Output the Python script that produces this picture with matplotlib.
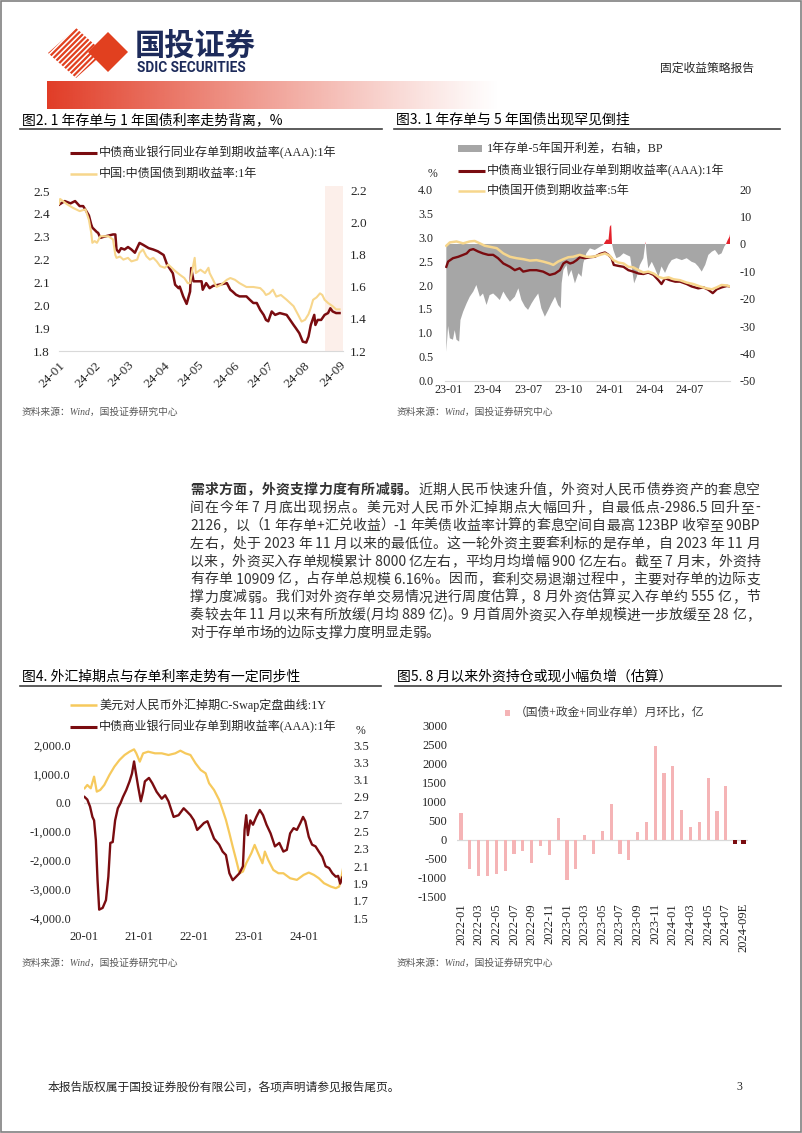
import re
import numpy as np
import pandas as pd
import matplotlib
matplotlib.use("Agg")
import matplotlib.pyplot as plt
import matplotlib.dates as mdates
from matplotlib.patches import Polygon, Rectangle
from matplotlib.ticker import FuncFormatter

W, H = 802, 1133
SERIF = ["Liberation Serif", "Noto Sans CJK SC"]
CJK = ["Noto Sans CJK SC", "DejaVu Sans"]
plt.rcParams["font.family"] = SERIF
plt.rcParams["axes.unicode_minus"] = False

DARK_RED = "#7a0c10"
YELLOW = "#f7d68c"
YELLOW4 = "#f6c95c"
GRAY_FILL = "#a6a6a6"
RED_FILL = "#e3212b"
PINK = "#f5b4b6"
AXIS_GRAY = "#d9d9d9"
TEXT = "#262626"
NAVY = "#1d2b5b"
LOGO_RED = "#e1401f"

# ---------------------------------------------------------------------
# fig 2: 1y CD (left axis) vs 1y CGB (right axis), days since 2024-01-01
F2_CD_DAYS = [0, 5, 10, 14, 18, 21, 24, 26, 28, 29, 31, 33, 34, 36, 39, 47, 49, 50,
              52, 54, 57, 60, 63, 66, 70, 73, 78, 82, 86, 91, 94, 96, 99, 101, 104,
              105, 108, 111, 114, 115, 117, 120, 124, 125, 128, 131, 134, 146, 149,
              151, 154, 157, 163, 166, 169, 172, 175, 178, 180, 182, 185, 188, 192,
              198, 201, 204, 206, 209, 212, 215, 217, 219, 222, 223, 225, 228, 231,
              234, 236, 238, 241, 244]
F2_CD = [2.44, 2.456, 2.446, 2.456, 2.434, 2.434, 2.41, 2.393, 2.354, 2.34, 2.33,
         2.32, 2.317, 2.295, 2.30, 2.31, 2.31, 2.244, 2.232, 2.25, 2.244, 2.255,
         2.244, 2.23, 2.273, 2.265, 2.25, 2.244, 2.236, 2.22, 2.178, 2.163, 2.14,
         2.09, 2.075, 2.082, 2.039, 2.006, 2.06, 2.163, 2.105, 2.105, 2.105, 2.068,
         2.097, 2.075, 2.085, 2.097, 2.068, 2.06, 2.046, 2.039, 2.039, 2.024, 2.01,
         2.01, 1.98, 1.958, 1.936, 1.93, 1.973, 1.958, 1.966, 1.958, 1.936, 1.914,
         1.90, 1.878, 1.841, 1.837, 1.863, 1.914, 1.958, 1.914, 1.936, 1.936, 1.958,
         1.966, 1.987, 1.973, 1.966, 1.966]
F2_CGB_DAYS = [0, 1, 7, 12, 18, 23, 26, 28, 29, 31, 33, 36, 39, 43, 47, 49, 50, 53,
               56, 60, 63, 68, 70, 73, 76, 79, 82, 85, 88, 92, 95, 98, 101, 105, 109,
               112, 114, 116, 118, 119, 123, 127, 130, 131, 134, 137, 141, 146, 149,
               153, 157, 163, 169, 175, 178, 180, 183, 186, 189, 193, 198, 201, 204,
               208, 211, 214, 217, 219, 221, 224, 227, 229, 231, 234, 238, 241, 244]
F2_CGB = [2.12, 2.15, 2.117, 2.095, 2.074, 2.085, 2.02, 1.94, 1.876, 1.887, 1.876,
          1.917, 1.917, 1.917, 1.897, 1.80, 1.782, 1.79, 1.771, 1.782, 1.76, 1.771,
          1.813, 1.834, 1.792, 1.771, 1.782, 1.76, 1.73, 1.72, 1.74, 1.72, 1.70,
          1.677, 1.656, 1.624, 1.624, 1.708, 1.782, 1.687, 1.708, 1.687, 1.72, 1.687,
          1.645, 1.60, 1.614, 1.645, 1.656, 1.645, 1.624, 1.60, 1.60, 1.593, 1.572,
          1.55, 1.56, 1.583, 1.54, 1.55, 1.52, 1.50, 1.48, 1.426, 1.384, 1.395,
          1.43, 1.47, 1.52, 1.535, 1.56, 1.55, 1.52, 1.50, 1.48, 1.46, 1.46]

# fig 3: spread (BP, right axis) and yields (%, left axis), days since 2023-01-01
F3_SPREAD_DAYS = [-4, 0, 4, 11, 15, 19, 25, 28, 34, 42, 49, 57, 64, 72, 79, 87, 94,
                  102, 110, 117, 125, 132, 140, 151, 159, 166, 174, 181, 189, 196,
                  204, 211, 219, 227, 234, 242, 249, 255, 257, 261, 268, 272, 279,
                  287, 295, 302, 306, 313, 321, 332, 344, 351, 355, 359, 363, 366,
                  369, 371, 374, 378, 381, 389, 397, 404, 412, 417, 421, 427, 434,
                  442, 447, 449, 453, 461, 468, 476, 483, 491, 499, 506, 517, 529,
                  540, 551, 559, 566, 574, 582, 589, 597, 604, 612, 619, 625, 629,
                  633, 637, 639]
F3_SPREAD = [-39.4, -30, -34.5, -35, -31.5, -35, -35.7, -27.8, -24.8, -21.7, -19.3,
             -17.4, -15, -19.3, -18.1, -22.3, -18.7, -18.1, -19.3, -20.5, -17.4,
             -19.3, -21.1, -19.3, -16.2, -20.5, -22.9, -24.1, -21.7, -19.9, -18.1,
             -23.5, -26.6, -24.1, -21.7, -19.3, -22.3, -23.5, -14.4, -9.5, -7.7,
             -12, -9.5, -14.4, -10.7, -12, -7, -3.4, -1.6, -2.2, -1.0, -0.4, 0.8,
             1.7, 1.5, 6.3, 7.0, 0, -2.2, -4.0, -5.2, -4.6, -3.4, -4.0, -4.6, -10,
             -14.4, -12, -7.7, -5.2, 0.9, -3.4, -8.9, -6.5, -8.9, -12, -8.2, -10.6,
             -7.6, -5.9, -5.2, -5.9, -5.2, -6.5, -7.0, -8.2, -10.1, -7.6, -4.0,
             -2.8, -2.2, -4.0, -3.4, -1.0, 0, 1.5, 2.7, 4.5]
F3_CD_DAYS = [-4, 0, 11, 23, 34, 42, 49, 57, 68, 79, 91, 102, 113, 125, 140, 151,
              162, 170, 185, 200, 215, 230, 242, 253, 261, 268, 276, 283, 291, 298,
              310, 321, 332, 344, 355, 363, 370, 375, 385, 397, 408, 419, 431, 442,
              453, 465, 476, 483, 491, 502, 514, 525, 540, 551, 566, 578, 589, 599,
              608, 619, 631, 638]
F3_CD = [2.38, 2.49, 2.56, 2.59, 2.63, 2.66, 2.73, 2.75, 2.70, 2.66, 2.63, 2.63,
         2.56, 2.45, 2.38, 2.31, 2.35, 2.28, 2.31, 2.31, 2.28, 2.21, 2.24, 2.31,
         2.45, 2.49, 2.45, 2.47, 2.52, 2.58, 2.56, 2.58, 2.59, 2.65, 2.68, 2.63,
         2.56, 2.42, 2.40, 2.38, 2.31, 2.28, 2.24, 2.23, 2.26, 2.21, 2.10, 2.02,
         2.14, 2.10, 2.07, 2.07, 2.02, 1.97, 1.93, 1.95, 1.90, 1.83, 1.91, 1.95,
         1.98, 1.97]
F3_CDB_DAYS = [-4, 4, 19, 34, 49, 60, 72, 83, 94, 110, 125, 140, 155, 170, 185, 200,
               215, 230, 238, 249, 261, 272, 283, 298, 313, 329, 344, 355, 366, 374,
               385, 397, 408, 419, 431, 442, 453, 465, 476, 487, 499, 510, 525, 540,
               555, 570, 585, 597, 608, 619, 631, 638]
F3_CDB = [2.82, 2.89, 2.91, 2.87, 2.91, 2.92, 2.87, 2.82, 2.80, 2.77, 2.66, 2.59,
          2.56, 2.54, 2.51, 2.52, 2.49, 2.45, 2.42, 2.49, 2.54, 2.58, 2.59, 2.63,
          2.59, 2.59, 2.63, 2.66, 2.61, 2.52, 2.47, 2.45, 2.38, 2.37, 2.31, 2.26,
          2.28, 2.24, 2.17, 2.14, 2.16, 2.12, 2.10, 2.05, 2.02, 1.97, 1.93, 1.91,
          1.95, 2.00, 1.99, 1.97]

# fig 4: FX swap points (left) and 1y CD (%, right), days since 2020-01-01
F4_SWAP_DAYS = [4, 22, 45, 67, 85, 108, 135, 169, 202, 236, 270, 303, 333, 348, 371,
                393, 427, 472, 517, 562, 607, 641, 674, 708, 742, 776, 809, 832, 865,
                899, 922, 944, 967, 989, 1012, 1034, 1057, 1079, 1113, 1135, 1158,
                1187, 1203, 1225, 1259, 1293, 1326, 1371, 1416, 1461, 1495, 1529,
                1562, 1596, 1641, 1675, 1697, 1713, 1731]
F4_SWAP = [501, 616, 501, 905, 386, 443, 616, 962, 1250, 1481, 1654, 1769, 1850,
           1712, 1423, 1712, 1769, 1712, 1712, 1654, 1712, 1804, 1712, 1654, 1366,
           1135, 1020, 674, 443, 98, -248, -594, -1055, -1517, -1978, -2440, -2382,
           -2093, -1747, -1459, -1747, -2093, -1690, -1978, -2325, -2440, -2440,
           -2613, -2670, -2497, -2416, -2497, -2613, -2785, -2901, -2958, -2901,
           -2554, -2036]
F4_CD_DAYS = [4, 22, 40, 56, 67, 79, 90, 101, 124, 146, 162, 175, 191, 207, 225, 243,
              259, 281, 303, 319, 333, 342, 360, 378, 393, 405, 432, 454, 483, 517,
              540, 562, 596, 629, 663, 686, 708, 731, 753, 776, 798, 821, 843, 865,
              899, 922, 944, 967, 989, 1012, 1034, 1057, 1068, 1079, 1090, 1106,
              1124, 1146, 1169, 1191, 1214, 1241, 1270, 1299, 1326, 1349, 1371,
              1394, 1416, 1439, 1457, 1472, 1495, 1517, 1540, 1562, 1585, 1607,
              1630, 1652, 1675, 1690, 1704, 1720, 1742]
F4_CD = [2.90, 2.87, 2.79, 2.67, 2.63, 2.40, 1.94, 1.60, 1.62, 1.71, 1.98, 2.37,
         2.38, 2.63, 2.77, 2.83, 2.90, 2.98, 3.08, 3.17, 3.31, 3.21, 3.02, 2.85,
         2.96, 3.08, 3.12, 3.06, 2.96, 2.88, 2.92, 2.85, 2.67, 2.69, 2.77, 2.73,
         2.69, 2.63, 2.52, 2.56, 2.60, 2.62, 2.52, 2.42, 2.35, 2.27, 2.23, 2.02,
         1.94, 1.98, 2.02, 2.10, 2.52, 2.69, 2.46, 2.63, 2.58, 2.67, 2.75, 2.69,
         2.58, 2.48, 2.33, 2.37, 2.27, 2.29, 2.48, 2.54, 2.52, 2.60, 2.67, 2.62,
         2.44, 2.35, 2.33, 2.27, 2.21, 2.10, 2.08, 2.02, 1.98, 1.99, 1.90, 1.98,
         1.96]

# fig 5: foreign holdings, month-on-month change (100m CNY)
F5_MONTHS = list(pd.period_range("2022-01", "2024-08", freq="M").strftime("%Y-%m")) + ["2024-09E"]
F5_VALUES = [700, -760, -960, -955, -900, -830, -385, -305, -615, -165, -410, 580,
             -1050, -760, 130, -370, 220, 940, -375, -545, 195, 455, 2475, 1745,
             1950, 790, 335, 465, 1630, 755, 1420, -120, -100]
F5_ESTIMATED = 2   # last two bars are estimates, drawn dark

PARAGRAPH = [
    [("需求方面，外资支撑力度有所减弱。", "bold"), ("近期人民币快速升值，外资对人民币债券资产的套息空", "normal")],
    [("间在今年 7 月底出现拐点。美元对人民币外汇掉期点大幅回升，自最低点-2986.5 回升至-", "normal")],
    [("2126，以（1 年存单+汇兑收益）-1 年美债收益率计算的套息空间自最高 123BP 收窄至 90BP", "normal")],
    [("左右，处于 2023 年 11 月以来的最低位。这一轮外资主要套利标的是存单，自 2023 年 11 月", "normal")],
    [("以来，外资买入存单规模累计 8000 亿左右，平均月均增幅 900 亿左右。截至 7 月末，外资持", "normal")],
    [("有存单 10909 亿，占存单总规模 6.16%。因而，套利交易退潮过程中，主要对存单的边际支", "normal")],
    [("撑力度减弱。我们对外资存单交易情况进行周度估算，8 月外资估算买入存单约 555 亿，节", "normal")],
    [("奏较去年 11 月以来有所放缓(月均 889 亿)。9 月首周外资买入存单规模进一步放缓至 28 亿，", "normal")],
    [("对于存单市场的边际支撑力度明显走弱。", "normal")],
]
SOURCE = "资料来源：Wind，国投证券研究中心"


def to_dates(base, days):
    return pd.Timestamp(base) + pd.to_timedelta(np.asarray(days), unit="D")


fig = plt.figure(figsize=(W / 100, H / 100), dpi=100)
page = fig.add_axes([0, 0, 1, 1])
page.set_xlim(0, W)
page.set_ylim(H, 0)
page.axis("off")


def px_axes(x0, y0, x1, y1):
    return fig.add_axes([x0 / W, 1 - y1 / H, (x1 - x0) / W, (y1 - y0) / H])


def clean(ax, size=8.5):
    for s in ax.spines.values():
        s.set_visible(False)
    ax.patch.set_alpha(0)
    ax.tick_params(length=0, labelsize=size, colors=TEXT)


def legend_line(x, y, color, label, lw=2.0):
    page.plot([x, x + 27], [y, y], color=color, lw=lw, solid_capstyle="butt")
    page.text(x + 29, y, label, fontsize=8.7, va="center", ha="left", color=TEXT)


# ---------------------------------------------------------------------
# page frame, header and logo
page.add_patch(Rectangle((0.8, 0.8), W - 1.6, H - 1.6, fill=False, ec="#808080", lw=1.2))

stripe_clip = Polygon([(48, 53), (76, 28), (104, 53), (76, 78)], closed=True,
                      transform=page.transData, fc="none", ec="none")
page.add_patch(stripe_clip)
for c in np.arange(60, 170, 5.4):
    ln, = page.plot([30, 130], [c, c - 100], color=LOGO_RED, lw=1.6)
    ln.set_clip_path(stripe_clip)
page.add_patch(Polygon([(88, 52), (108, 32), (128, 52), (108, 72)], closed=True,
                       fc=LOGO_RED, ec="none"))
page.text(135, 46, "国投证券", fontsize=21.8, weight="bold", color=NAVY,
          family=CJK, va="center", ha="left")
page.text(137, 67.5, "SDIC SECURITIES", fontsize=9.8, weight="bold", color=NAVY,
          family=["Roboto", "DejaVu Sans"], va="center", ha="left")
page.text(754, 68, "固定收益策略报告", fontsize=8.5, color=TEXT, family=CJK,
          va="center", ha="right")

grad = np.ones((2, 400, 4))
grad[..., 0] = 225 / 255
grad[..., 1] = 60 / 255
grad[..., 2] = 38 / 255
grad[..., 3] = np.linspace(1, 0, 400) ** 1.1
page.imshow(grad, extent=(47, 500, 109, 81), aspect="auto", interpolation="bilinear")
page.set_xlim(0, W)
page.set_ylim(H, 0)

# chart titles
for x, y, x1, title in [(22, 120, 382, "图2. 1 年存单与 1 年国债利率走势背离，%"),
                        (396, 120, 780, "图3. 1 年存单与 5 年国债出现罕见倒挂"),
                        (22, 677, 381, "图4. 外汇掉期点与存单利率走势有一定同步性"),
                        (397, 677, 781, "图5. 8 月以来外资持仓或现小幅负增（估算）")]:
    page.text(x, y, title, fontsize=10, color="#000000", family=CJK,
              va="center", ha="left")
    page.plot([x - 2, x1], [y + 9, y + 9], color="#404040", lw=1.2)

for x, y in [(22, 412), (397, 412), (22, 963), (397, 963)]:
    page.text(x, y, SOURCE, fontsize=7, style="italic", color="#595959",
              family=["Liberation Serif", "Noto Sans CJK SC"], va="center", ha="left")

page.text(48, 1087, "本报告版权属于国投证券股份有限公司，各项声明请参见报告尾页。",
          fontsize=8.5, color=TEXT, family=CJK, va="center", ha="left")
page.text(739, 1087, "3", fontsize=8.5, color=TEXT, va="center", ha="center")

# ---------------------------------------------------------------------
# paragraph, justified line by line
renderer = fig.canvas.get_renderer()
for i, parts in enumerate(PARAGRAPH):
    y = 490 + i * 17.9
    objs = []
    for s, w in parts:
        for m in re.finditer(r"[ -~]+|.", s):
            objs.append(page.text(0, y, m.group(), fontsize=10, weight=w, color="#333333",
                                  family=CJK, va="center", ha="left"))
    widths = [t.get_window_extent(renderer).width for t in objs]
    gap = 0.0
    if i < len(PARAGRAPH) - 1:
        gap = (760 - 190 - sum(widths)) / (len(objs) - 1)
    x = 190
    for t, wd in zip(objs, widths):
        t.set_x(x)
        x += wd + gap

# ---------------------------------------------------------------------
# fig 2
ax = px_axes(59, 186, 343, 351)
clean(ax, 9.5)
ax.axvspan(pd.Timestamp("2024-08-19"), pd.Timestamp("2024-09-05"), color="#fcefea", lw=0)
ax.plot(to_dates("2024-01-01", F2_CD_DAYS), F2_CD, color=DARK_RED, lw=1.8)
ax.set_ylim(1.8, 2.522)
ax.set_yticks(np.arange(1.8, 2.51, 0.1))
ax.yaxis.set_major_formatter(FuncFormatter(lambda v, p: f"{v:.1f}"))
ax.spines["bottom"].set_visible(True)
ax.spines["bottom"].set_color(AXIS_GRAY)
ax.tick_params(axis="y", pad=6.5)
ax2 = ax.twinx()
clean(ax2, 9.5)
ax2.plot(to_dates("2024-01-01", F2_CGB_DAYS), F2_CGB, color=YELLOW, lw=1.5)
ax2.set_ylim(1.2, 2.231)
ax2.set_yticks(np.arange(1.2, 2.21, 0.2))
ax2.yaxis.set_major_formatter(FuncFormatter(lambda v, p: f"{v:.1f}"))
ax2.tick_params(axis="y", pad=5)
ax.set_xlim(pd.Timestamp("2024-01-01"), pd.Timestamp("2024-09-04"))
ax.xaxis.set_major_locator(mdates.MonthLocator())
ax.xaxis.set_major_formatter(mdates.DateFormatter("%y-%m"))
ax.tick_params(axis="x", pad=6)
for lab in ax.get_xticklabels():
    lab.set_rotation(45)
    lab.set_ha("right")
    lab.set_rotation_mode("anchor")

legend_line(70, 153, DARK_RED, "中债商业银行同业存单到期收益率(AAA):1年", lw=2.2)
legend_line(70, 174, YELLOW, "中国:中债国债到期收益率:1年", lw=1.8)

# fig 3: spread area on the back axes (right ticks), yields on the twin (left ticks)
ax = px_axes(445, 189.3, 730, 380.7)
clean(ax, 8.7)
ax2 = ax.twinx()
clean(ax2, 8.7)
ax.yaxis.tick_right()
ax2.yaxis.tick_left()
sp_dates = to_dates("2023-01-01", F3_SPREAD_DAYS)
sp = np.array(F3_SPREAD)
ax.fill_between(sp_dates, sp, 0, where=sp <= 0, interpolate=True, color=GRAY_FILL, lw=0)
ax.fill_between(sp_dates, sp, 0, where=sp >= 0, interpolate=True, color=RED_FILL, lw=0)
ax.set_ylim(-50, 20)
ax.set_yticks(np.arange(-50, 21, 10))
ax.tick_params(axis="y", pad=7)
ax2.plot(to_dates("2023-01-01", F3_CD_DAYS), F3_CD, color=DARK_RED, lw=1.7)
ax2.plot(to_dates("2023-01-01", F3_CDB_DAYS), F3_CDB, color=YELLOW, lw=1.8)
ax2.set_ylim(0, 4)
ax2.set_yticks(np.arange(0, 4.01, 0.5))
ax2.yaxis.set_major_formatter(FuncFormatter(lambda v, p: f"{v:.1f}"))
ax2.tick_params(axis="y", pad=8.5)
ax2.spines["bottom"].set_visible(True)
ax2.spines["bottom"].set_color(AXIS_GRAY)
ax.set_xlim(pd.Timestamp("2022-12-25"), pd.Timestamp("2024-09-30"))
ax.xaxis.set_major_locator(mdates.MonthLocator(bymonth=[1, 4, 7, 10]))
ax.xaxis.set_major_formatter(mdates.DateFormatter("%y-%m"))
ax.tick_params(axis="x", pad=2.5)

page.add_patch(Rectangle((458, 145), 24, 7, fc=GRAY_FILL, ec="none"))
page.text(487, 148.5, "1年存单-5年国开利差，右轴，BP", fontsize=8.7, va="center",
          ha="left", color=TEXT)
legend_line(458, 170.5, DARK_RED, "中债商业银行同业存单到期收益率(AAA):1年", lw=2.2)
legend_line(458, 190.5, YELLOW, "中债国开债到期收益率:5年", lw=1.8)
page.text(432, 174, "%", fontsize=8.5, va="center", ha="center", color=TEXT)

# fig 4
ax = px_axes(84, 745, 342, 918.3)
clean(ax, 9)
ax.axhline(0, color=AXIS_GRAY, lw=0.9)
ax.plot(to_dates("2020-01-01", F4_SWAP_DAYS), F4_SWAP, color=YELLOW4, lw=1.6)
ax.set_ylim(-4000, 2000)
ax.set_yticks(np.arange(-4000, 2001, 1000))
ax.yaxis.set_major_formatter(FuncFormatter(lambda v, p: f"{v:,.1f}"))
ax.tick_params(axis="y", pad=9.5)
ax2 = ax.twinx()
clean(ax2, 9)
ax2.plot(to_dates("2020-01-01", F4_CD_DAYS), F4_CD, color=DARK_RED, lw=1.7)
ax2.set_ylim(1.5, 3.5)
ax2.set_yticks(np.arange(1.5, 3.51, 0.2))
ax2.yaxis.set_major_formatter(FuncFormatter(lambda v, p: f"{v:.1f}"))
ax2.tick_params(axis="y", pad=8)
ax.set_xlim(pd.Timestamp("2020-01-01"), pd.Timestamp("2024-09-12"))
ax.xaxis.set_major_locator(mdates.YearLocator())
ax.xaxis.set_major_formatter(mdates.DateFormatter("%y-%m"))
ax.tick_params(axis="x", pad=9)

legend_line(70, 705, YELLOW4, "美元对人民币外汇掉期C-Swap定盘曲线:1Y", lw=1.8)
legend_line(70, 727, DARK_RED, "中债商业银行同业存单到期收益率(AAA):1年", lw=2.2)
page.text(360, 731, "%", fontsize=8.5, va="center", ha="center", color=TEXT)

# fig 5
ax = px_axes(456.7, 725.7, 748, 896.7)
clean(ax, 9)
ax.axhline(0, color=AXIS_GRAY, lw=0.9, zorder=0)
xs = np.arange(len(F5_MONTHS))
n = len(F5_MONTHS) - F5_ESTIMATED
ax.bar(xs[:n], F5_VALUES[:n], width=0.36, color=PINK, lw=0)
ax.bar(xs[n:], F5_VALUES[n:], width=0.46, color=DARK_RED, lw=0)
ax.set_ylim(-1500, 3000)
ax.set_yticks(np.arange(-1500, 3001, 500))
ax.tick_params(axis="y", pad=7)
ax.set_xlim(-0.49, len(F5_MONTHS) - 0.49)
ax.set_xticks(xs[::2])
ax.set_xticklabels(F5_MONTHS[::2], rotation=90, va="top", ha="center")
ax.tick_params(axis="x", pad=4.5)

page.add_patch(Rectangle((504.5, 710), 5, 6, fc=PINK, ec="none"))
page.text(515, 713, "（国债+政金+同业存单）月环比，亿", fontsize=8.5, va="center",
          ha="left", color="#404040")

fig.savefig("out.png", dpi=100)
